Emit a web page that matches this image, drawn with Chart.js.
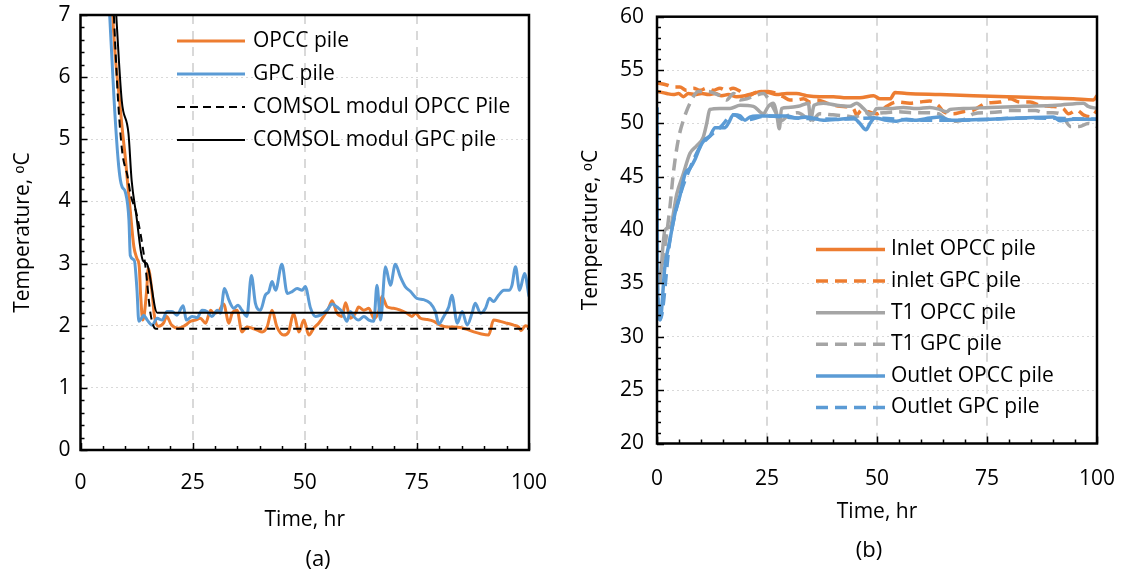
<!DOCTYPE html>
<html>
<head>
<meta charset="utf-8">
<title>Pile temperatures</title>
<style>
  html, body { margin: 0; padding: 0; background: #fff; }
  body { width: 1122px; height: 576px; position: relative; overflow: hidden; font-family: "Open Sans", sans-serif; }
  canvas { position: absolute; top: 0; }
  #left { left: 0; }
  #right { left: 560px; }
  .cap { position: absolute; font-size: 22px; color: #000; transform: translate(-50%, -50%); }
</style>
</head>
<body>
<canvas id="left" width="560" height="576"></canvas>
<canvas id="right" width="562" height="576"></canvas>
<div class="cap" style="left:318px; top:557px">(a)</div>
<div class="cap" style="left:869px; top:548px">(b)</div>
<script src="https://cdn.jsdelivr.net/npm/chart.js@4/dist/chart.umd.min.js"></script>
<script>
// ---- (a) data ----
const opccT = [6.9, 7.8, 8.6, 9.4, 10.0, 10.5, 11.1, 11.9, 12.6, 13.1, 13.4, 13.9, 14.2, 14.75, 15.1, 15.9, 16.5, 17.4, 18.5, 19.2, 20.3, 21.8, 23.4, 24.5, 25.6, 26.7, 27.9, 29.0, 29.7, 30.8, 31.9, 33.1, 33.8, 34.9, 36.0, 37.1, 38.3, 39.4, 40.5, 41.6, 42.7, 43.8, 45.3, 46.4, 47.5, 48.7, 49.8, 50.9, 52.0, 53.1, 54.2, 55.3, 56.1, 57.2, 58.3, 59.1, 60.2, 61.3, 62.0, 63.2, 64.3, 65.4, 66.5, 67.2, 68.4, 69.8, 71.3, 72.8, 73.9, 74.7, 75.8, 77.3, 78.8, 80.2, 81.7, 83.2, 84.7, 86.2, 87.7, 89.2, 91.0, 92.1, 93.6, 95.1, 96.6, 97.7, 98.2, 99.2, 100];
const opccV = [7.3, 6.3, 5.7, 5.1, 4.7, 4.3, 3.85, 3.27, 3.08, 2.95, 2.5, 2.09, 2.17, 2.57, 2.92, 2.57, 2.15, 1.99, 2.04, 2.15, 2.01, 1.96, 2.01, 2.07, 2.09, 2.12, 2.04, 2.25, 2.2, 2.23, 2.35, 2.04, 2.2, 2.25, 1.9, 1.98, 1.96, 1.93, 1.9, 1.98, 2.25, 1.98, 1.85, 1.9, 2.2, 1.9, 2.09, 1.85, 1.96, 2.04, 2.15, 2.28, 2.4, 2.2, 2.15, 2.37, 2.12, 2.2, 2.3, 2.25, 2.28, 2.12, 2.23, 2.47, 2.3, 2.28, 2.25, 2.2, 2.15, 2.2, 2.12, 2.1, 2.07, 2.01, 1.98, 1.98, 1.97, 1.94, 1.9, 1.87, 1.85, 2.09, 2.07, 2.04, 2.01, 1.98, 1.92, 2.0, 1.98];

const gpcT = [6.3, 7.5, 8.4, 8.9, 9.3, 10.0, 10.8, 11.1, 12.0, 12.6, 13.0, 13.6, 14.1, 14.9, 16.0, 17.1, 18.2, 19.3, 20.4, 21.5, 22.9, 23.6, 24.9, 26.0, 27.1, 28.2, 29.3, 30.5, 31.2, 32.1, 33.1, 34.2, 35.1, 36.0, 37.1, 38.1, 39.0, 40.1, 41.2, 42.0, 42.7, 43.5, 44.9, 46.1, 47.2, 48.3, 49.4, 50.1, 51.3, 52.4, 53.5, 55.0, 56.1, 57.2, 58.3, 59.4, 60.2, 60.9, 62.0, 63.2, 64.3, 65.4, 66.1, 66.9, 68.0, 69.1, 70.2, 71.3, 72.4, 73.6, 75.0, 76.5, 78.0, 79.1, 79.9, 81.0, 82.1, 82.8, 84.0, 85.1, 86.2, 87.3, 88.0, 89.2, 90.3, 91.2, 92.1, 93.2, 94.4, 95.5, 96.2, 97.0, 97.9, 99.0, 100];
const gpcV = [7.3, 5.62, 4.66, 4.34, 4.23, 4.15, 3.7, 3.13, 3.05, 2.57, 2.07, 2.12, 2.17, 2.09, 2.01, 2.12, 2.09, 2.23, 2.23, 2.17, 2.32, 2.09, 2.15, 2.13, 2.25, 2.23, 2.15, 2.25, 2.2, 2.6, 2.41, 2.28, 2.33, 2.25, 2.15, 2.81, 2.36, 2.25, 2.49, 2.55, 2.71, 2.57, 2.99, 2.52, 2.55, 2.6, 2.57, 2.63, 2.28, 2.15, 2.17, 2.25, 2.35, 2.3, 2.23, 2.07, 2.23, 2.15, 2.09, 2.15, 2.09, 2.07, 2.65, 2.09, 2.95, 2.65, 2.99, 2.79, 2.63, 2.55, 2.44, 2.42, 2.36, 2.23, 2.03, 2.15, 2.3, 2.49, 2.04, 2.23, 2.01, 2.2, 2.36, 2.2, 2.28, 2.44, 2.39, 2.49, 2.57, 2.57, 2.65, 2.95, 2.57, 2.84, 2.47];

const comsolOpccT = [7.3, 8.4, 9.3, 10.5, 11.2, 12.5, 14.4, 15.6, 16.8, 100];
const comsolOpccV = [7.2, 5.6, 4.8, 4.4, 4.1, 3.8, 3.0, 2.2, 1.95, 1.95];
const comsolGpcT = [7.8, 9.2, 10.7, 11.4, 12.4, 13.9, 14.8, 17.1, 100];
const comsolGpcV = [7.2, 5.62, 5.09, 4.34, 3.8, 3.05, 3.0, 2.21, 2.21];

// ---- (b) data ----
const inOpccT = [0, 2.2, 3.7, 4.9, 6.0, 7.1, 8.6, 10.2, 11.7, 13.2, 14.7, 16.2, 18.1, 20.0, 21.9, 23.8, 25.3, 27.2, 29.5, 31.7, 34.0, 37.0, 40.1, 43.1, 46.1, 49.2, 50.7, 53.0, 54.1, 56.7, 64.3, 71.9, 79.5, 87.1, 94.6, 99.2, 100];
const inOpccV = [53.0, 52.8, 52.7, 52.8, 52.5, 52.8, 52.7, 52.8, 52.7, 52.8, 52.6, 52.7, 52.5, 52.6, 52.8, 53.0, 52.9, 52.7, 52.8, 52.8, 52.6, 52.5, 52.5, 52.4, 52.4, 52.6, 52.3, 52.3, 52.9, 52.8, 52.7, 52.6, 52.5, 52.4, 52.3, 52.2, 52.6];

const inGpcT = [0, 2.2, 3.7, 5.2, 6.7, 8.3, 9.8, 11.3, 12.8, 14.3, 15.8, 17.3, 18.9, 20.4, 21.9, 23.4, 25.3, 27.2, 28.7, 30.2, 31.7, 33.3, 34.8, 36.3, 38.6, 41.6, 44.6, 45.4, 46.5, 48.0, 49.9, 52.2, 54.4, 57.5, 59.7, 62.0, 63.9, 65.1, 67.3, 69.6, 71.9, 74.9, 77.9, 80.2, 82.5, 84.8, 87.0, 89.3, 92.3, 93.5, 95.4, 96.9, 98.8, 100];
const inGpcV = [53.8, 53.6, 53.4, 53.4, 53.1, 53.3, 53.1, 53.3, 53.1, 53.3, 53.1, 53.3, 53.0, 52.5, 52.8, 53.0, 53.0, 52.8, 52.5, 52.2, 52.2, 52.3, 52.0, 52.2, 51.9, 51.6, 51.4, 50.8, 51.25, 51.1, 50.9, 51.6, 52.0, 51.9, 52.0, 52.1, 51.7, 51.1, 50.9, 51.1, 51.25, 51.9, 52.0, 52.3, 52.0, 52.0, 51.7, 51.6, 51.4, 50.9, 51.25, 50.8, 50.6, 51.25];

const t1OpccT = [0.7, 1.8, 3.0, 4.5, 6.0, 7.5, 9.0, 10.5, 11.3, 12.0, 14.3, 16.6, 18.9, 21.9, 24.2, 25.3, 26.4, 27.2, 27.8, 28.3, 29.8, 32.1, 34.4, 34.9, 35.7, 37.8, 40.8, 43.8, 45.4, 46.9, 48.4, 49.1, 49.9, 52.9, 56.0, 59.0, 62.0, 64.3, 65.8, 66.6, 70.4, 75.7, 83.2, 90.8, 96.9, 98.0, 100];
const t1OpccV = [35.0, 40.0, 40.3, 43.4, 45.3, 47.2, 47.9, 48.7, 50.0, 51.3, 51.4, 51.4, 51.7, 51.6, 50.9, 51.6, 51.9, 50.9, 49.5, 51.4, 51.5, 51.6, 51.9, 50.3, 51.7, 51.9, 51.7, 51.6, 51.9, 51.4, 50.9, 50.9, 51.4, 51.4, 51.5, 51.4, 51.5, 51.3, 51.1, 51.3, 51.4, 51.5, 51.6, 51.7, 51.9, 51.6, 51.4];

const t1GpcT = [0.3, 1.45, 2.95, 3.7, 4.85, 6.0, 7.5, 9.4, 11.3, 13.2, 14.7, 15.8, 17.4, 18.9, 20.4, 22.3, 24.2, 25.3, 27.0, 28.0, 30.0, 32.0, 34.0, 35.0, 37.0, 40.0, 43.0, 45.0, 47.5, 49.0, 50.0, 52.0, 55.0, 58.0, 61.0, 64.0, 66.0, 68.0, 70.0, 72.0, 75.0, 78.0, 80.0, 83.0, 86.0, 88.0, 90.0, 92.0, 94.0, 96.0, 98.0, 100];
const t1GpcV = [35.0, 37.5, 42.2, 45.3, 48.5, 50.3, 51.9, 53.0, 53.0, 52.8, 52.5, 52.2, 52.8, 52.2, 52.3, 52.6, 52.8, 52.3, 51.0, 50.2, 50.8, 51.0, 50.5, 50.2, 50.9, 50.8, 50.7, 50.6, 51.0, 50.5, 50.9, 51.0, 51.1, 51.0, 51.0, 50.9, 50.3, 50.2, 50.4, 50.9, 51.0, 51.1, 51.2, 51.2, 51.2, 51.0, 51.0, 50.8, 49.7, 49.7, 50.0, 49.7];

const outOpccT = [0, 0.1, 0.7, 1.8, 2.95, 4.1, 5.2, 6.4, 7.5, 8.6, 9.8, 10.9, 12.0, 13.2, 14.3, 15.5, 16.2, 17.4, 18.9, 20.0, 21.1, 22.7, 24.9, 27.2, 29.5, 31.7, 34.0, 37.8, 41.6, 44.6, 46.1, 47.5, 48.4, 49.5, 52.2, 54.4, 56.7, 59.0, 62.0, 64.3, 66.6, 68.8, 75.7, 83.2, 90.1, 91.6, 94.6, 100];
const outOpccV = [51.5, 35.0, 31.6, 36.6, 39.1, 41.6, 43.2, 45.3, 45.8, 46.6, 47.8, 48.5, 48.8, 49.6, 49.6, 49.6, 50.0, 50.8, 50.7, 50.3, 50.6, 50.7, 50.7, 50.7, 50.7, 50.5, 50.6, 50.3, 50.4, 50.5, 50.0, 49.4, 50.0, 50.5, 50.3, 50.2, 50.4, 50.3, 50.5, 50.6, 50.3, 50.3, 50.4, 50.5, 50.6, 50.25, 50.4, 50.4];

// outlet GPC lies under the outlet OPCC curve
const outGpcT = [0, 0.1, 0.7, 2.95, 5.2, 7.5, 9.8, 12.0, 14.3, 17.4, 20.0, 24.9, 31.7, 41.6, 49.5, 59.0, 68.8, 83.2, 100];
const outGpcV = [51.5, 35.0, 31.6, 39.1, 43.2, 45.8, 47.8, 48.8, 49.6, 50.8, 50.3, 50.7, 50.5, 50.4, 50.5, 50.3, 50.3, 50.5, 50.4];

const xTicks = [0, 25, 50, 75, 100];

const ORANGE = '#ED7D31', BLUE = '#5B9BD5', GRAY = '#A5A5A5';
const pts = (t, v) => t.map((x, i) => ({ x: x, y: v[i] }));

Chart.defaults.font.family = '"Open Sans", sans-serif';
Chart.defaults.font.size = 21;
Chart.defaults.color = '#000';

// frame + inward ticks, drawn over the lines
const framePlugin = {
	id: 'frame',
	afterDatasetsDraw(chart, args, o) {
		const { ctx, chartArea: a, scales } = chart;
		ctx.save();
		ctx.strokeStyle = '#000';
		ctx.lineWidth = 1.5;
		for (let v = scales.y.min; v <= scales.y.max + 1e-6; v += o.yMinor) {
			const p = Math.round(scales.y.getPixelForValue(v)) + 0.5;
			const major = Math.abs(v / o.yMajor - Math.round(v / o.yMajor)) < 1e-6;
			ctx.beginPath();
			ctx.moveTo(a.left, p);
			ctx.lineTo(a.left + (major ? 7 : 4), p);
			ctx.stroke();
		}
		for (let v = 0; v <= 100; v += 5) {
			const p = Math.round(scales.x.getPixelForValue(v)) + 0.5;
			ctx.beginPath();
			ctx.moveTo(p, a.bottom);
			ctx.lineTo(p, a.bottom - (v % 25 === 0 ? 7 : 4));
			ctx.stroke();
		}
		ctx.lineWidth = 2.5;
		ctx.strokeRect(a.left, a.top, a.right - a.left, a.bottom - a.top);
		ctx.restore();
	}
};

// legend inside the plot
const boxLegend = {
	id: 'boxLegend',
	afterDraw(chart, args, o) {
		const ctx = chart.ctx;
		ctx.save();
		ctx.font = '21px "Open Sans", sans-serif';
		ctx.fillStyle = '#000';
		ctx.textBaseline = 'middle';
		chart.data.datasets.forEach((d, i) => {
			const y = o.y0 + i * o.dy;
			ctx.strokeStyle = d.borderColor;
			ctx.lineWidth = d.borderWidth;
			ctx.setLineDash(d.borderDash || []);
			ctx.beginPath();
			ctx.moveTo(o.x1, y);
			ctx.lineTo(o.x2, y);
			ctx.stroke();
			ctx.fillText(d.label, o.tx, y);
		});
		ctx.restore();
	}
};

const line = (label, data, color, width, dash, n, i) => ({
	label: label, data: data, borderColor: color, backgroundColor: color,
	borderWidth: width, borderDash: dash, pointRadius: 0, tension: 0.3,
	cubicInterpolationMode: 'monotone', fill: false, clip: 0, order: n - i
});

const xScale = (pad, h) => ({
	type: 'linear', min: 0, max: 100,
	afterBuildTicks: s => { s.ticks = xTicks.map(v => ({ value: v })); },
	ticks: { padding: pad },
	grid: {
		drawTicks: false, lineWidth: 2,
		color: c => (c.tick && (c.tick.value === 0 || c.tick.value === 100)) ? 'rgba(0,0,0,0)' : '#d9d9d9'
	},
	border: { display: false, dash: [9, 7] },
	title: { display: true, text: 'Time, hr', font: { size: 21 } },
	afterFit: s => { s.height = h; s.paddingLeft = 0; s.paddingRight = 0; }
});

const yScale = (min, max, step, pad, w) => ({
	type: 'linear', min: min, max: max,
	ticks: { stepSize: step, padding: pad },
	grid: {
		drawTicks: false, lineWidth: 1,
		color: c => (c.tick && (c.tick.value === min || c.tick.value === max)) ? 'rgba(0,0,0,0)' : '#d9d9d9'
	},
	border: { display: false, dash: [2, 3] },
	title: { display: true, text: 'Temperature, ᵒC', font: { size: 21 } },
	afterFit: s => { s.width = w; s.paddingTop = 0; s.paddingBottom = 0; }
});

new Chart(document.getElementById('left'), {
	type: 'line',
	data: {
		datasets: [
			line('OPCC pile', pts(opccT, opccV), ORANGE, 3, [], 4, 0),
			line('GPC pile', pts(gpcT, gpcV), BLUE, 3, [], 4, 1),
			line('COMSOL modul OPCC Pile', pts(comsolOpccT, comsolOpccV), '#000', 2, [8, 5], 4, 2),
			line('COMSOL modul GPC pile', pts(comsolGpcT, comsolGpcV), '#000', 2, [], 4, 3)
		]
	},
	options: {
		responsive: false, animation: false, devicePixelRatio: 1,
		layout: { padding: { left: 6, top: 15, right: 31, bottom: 39 } },
		scales: {
			x: xScale(20, 87),
			y: yScale(0, 7, 1, 10, 74.5)
		},
		plugins: {
			legend: { display: false }, tooltip: { enabled: false },
			frame: { yMinor: 0.2, yMajor: 1 },
			boxLegend: { x1: 177, x2: 245, tx: 253, y0: 41, dy: 33 }
		}
	},
	plugins: [framePlugin, boxLegend]
});

new Chart(document.getElementById('right'), {
	type: 'line',
	data: {
		datasets: [
			line('Inlet OPCC pile', pts(inOpccT, inOpccV), ORANGE, 3.5, [], 6, 0),
			line('inlet GPC pile', pts(inGpcT, inGpcV), ORANGE, 3.5, [12, 7], 6, 1),
			line('T1 OPCC pile', pts(t1OpccT, t1OpccV), GRAY, 3.5, [], 6, 2),
			line('T1 GPC pile', pts(t1GpcT, t1GpcV), GRAY, 3.5, [12, 7], 6, 3),
			line('Outlet OPCC pile', pts(outOpccT, outOpccV), BLUE, 3.5, [], 6, 4),
			line('Outlet GPC pile', pts(outGpcT, outGpcV), BLUE, 3.5, [12, 7], 6, 5)
		]
	},
	options: {
		responsive: false, animation: false, devicePixelRatio: 1,
		layout: { padding: { left: 14, top: 16.7, right: 25, bottom: 47 } },
		scales: {
			x: xScale(23, 85.5),
			y: yScale(20, 60, 5, 13, 83)
		},
		plugins: {
			legend: { display: false }, tooltip: { enabled: false },
			frame: { yMinor: 1, yMajor: 5 },
			boxLegend: { x1: 256, x2: 325, tx: 331, y0: 249.5, dy: 31.6 }
		}
	},
	plugins: [framePlugin, boxLegend]
});
</script>
</body>
</html>
